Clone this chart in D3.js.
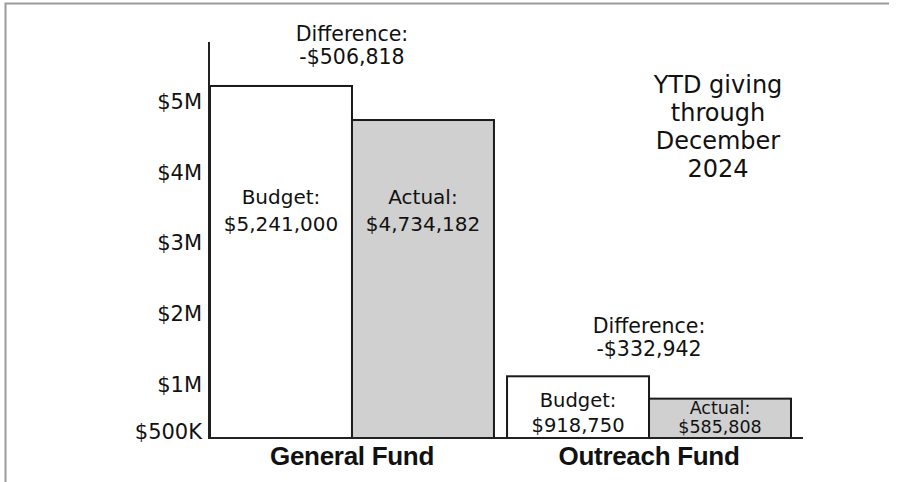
<!DOCTYPE html>
<html>
<head>
<meta charset="utf-8">
<script src="https://cdn.jsdelivr.net/npm/d3@7"></script>
<style>
  body { margin: 0; background: #fff; }
  text { font-family: "DejaVu Sans", sans-serif; fill: #111; }
</style>
</head>
<body>
<svg class="chart"></svg>
<script>
const width = 909
const height = 482

// data
const funds = ["General Fund", "Outreach Fund"]
const kinds = ["Budget", "Actual"]
const budget = [5241000, 918750]
const actual = [4734182, 585808]
const tickValues = [500000, 1000000, 2000000, 3000000, 4000000, 5000000]
const tickLabels = ["$500K", "$1M", "$2M", "$3M", "$4M", "$5M"]
const titleLines = ["YTD giving", "through", "December", "2024"]

const fmt = d3.format("$,")

const svg = d3.select(".chart")
  .attr("width", width)
  .attr("height", height)

// frame round the picture
svg.append("path")
  .attr("d", "M5.5,482 L5.5,3.5 L889,3.5")
  .attr("fill", "none")
  .style("stroke", "#9a9a9a")
  .style("stroke-width", "2px")

const baseY = 438

const x0 = d3.scaleBand()
  .domain(funds)
  .range([210, 791])
  .paddingInner(0.044)

const x1 = d3.scaleBand()
  .domain(kinds)
  .range([0, x0.bandwidth()])

const y = d3.scaleLinear()
  .domain([0, 6000000])
  .range([baseY, baseY - 403])

// the tick labels are not evenly spaced in the original
const yTicks = d3.scaleLinear()
  .domain([500000, 1000000, 5000000])
  .range([431.5, 385, 101.5])

const rows = []
funds.forEach((f, i) => {
  rows.push({fund: f, kind: "Budget", value: budget[i]})
  rows.push({fund: f, kind: "Actual", value: actual[i]})
})

// bars
svg.append("g").selectAll("rect")
  .data(rows)
  .enter()
  .append("rect")
  .attr("x", d => x0(d.fund) + x1(d.kind))
  .attr("y", d => y(d.value))
  .attr("width", x1.bandwidth())
  .attr("height", d => baseY - y(d.value))
  .attr("fill", d => d.kind == "Budget" ? "#ffffff" : "#d0d0d0")
  .style("stroke", "#1a1a1a")
  .style("stroke-width", "2px")

// axis lines
svg.append("line")
  .attr("x1", 209).attr("x2", 209)
  .attr("y1", 42).attr("y2", baseY + 1)
  .style("stroke", "#222").style("stroke-width", "2px")

svg.append("line")
  .attr("x1", 208).attr("x2", 803)
  .attr("y1", baseY).attr("y2", baseY)
  .style("stroke", "#222").style("stroke-width", "2px")

// tick labels
const yAxis = d3.axisLeft(yTicks)
  .tickValues(tickValues)
  .tickFormat((d, i) => tickLabels[i])
  .tickSize(0)
  .tickPadding(0)

const ag = svg.append("g")
  .attr("transform", "translate(202,0)")
  .call(yAxis)
ag.select(".domain").remove()
ag.selectAll("text")
  .style("font-family", "'DejaVu Sans', sans-serif")
  .style("font-size", "21px")
  .attr("fill", "#111")

// category labels
svg.append("g").selectAll("text")
  .data(funds)
  .enter()
  .append("text")
  .attr("x", d => x0(d) + x0.bandwidth() / 2)
  .attr("y", 465)
  .attr("text-anchor", "middle")
  .style("font-family", "'Liberation Sans', sans-serif")
  .style("font-weight", "bold")
  .style("font-size", "26px")
  .style("letter-spacing", "-0.3px")
  .text(d => d)

function twoLines(cx, yTop, l1, l2, size, gap) {
  const t = svg.append("text")
    .attr("text-anchor", "middle")
    .style("font-size", size + "px")
  t.append("tspan").attr("x", cx).attr("y", yTop).text(l1)
  t.append("tspan").attr("x", cx).attr("y", yTop + gap).text(l2)
}

// labels in the bars and differences above them
const inBarY = [204, 407]
const diffY = [41, 333]
funds.forEach((f, i) => {
  const bx = x0(f) + x1("Budget") + x1.bandwidth() / 2
  const ax = x0(f) + x1("Actual") + x1.bandwidth() / 2
  if (i == 0) {
    twoLines(bx, inBarY[i], "Budget:", fmt(budget[i]), 20, 27)
    twoLines(ax, inBarY[i], "Actual:", fmt(actual[i]), 20, 27)
  } else {
    twoLines(bx, inBarY[i], "Budget:", fmt(budget[i]), 19.5, 25)
    twoLines(ax, inBarY[i] + 7, "Actual:", fmt(actual[i]), 17.5, 19)
  }
  const diff = actual[i] - budget[i]
  twoLines(x0(f) + x0.bandwidth() / 2, diffY[i], "Difference:", "-" + fmt(-diff), 20.5, 23)
})

// title block
const tt = svg.append("text")
  .attr("text-anchor", "middle")
  .style("font-size", "24px")
tt.selectAll("tspan")
  .data(titleLines)
  .enter()
  .append("tspan")
  .attr("x", 718)
  .attr("y", (d, i) => 93 + i * 28)
  .text(d => d)
</script>
</body>
</html>
